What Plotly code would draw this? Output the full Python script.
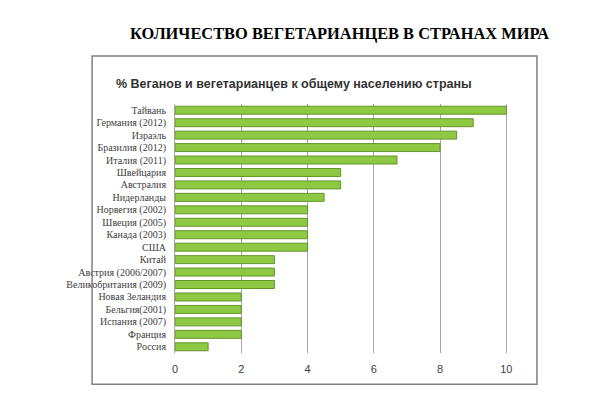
import plotly.graph_objects as go

# Data (top to bottom)
countries = ['Тайвань', 'Германия (2012)', 'Израэль', 'Бразилия (2012)', 'Италия (2011)',
             'Швейцария', 'Австралия', 'Нидерланды', 'Норвегия (2002)', 'Швеция (2005)',
             'Канада (2003)', 'США', 'Китай', 'Австрия (2006/2007)', 'Великобритания (2009)',
             'Новая Зеландия', 'Бельгия(2001)', 'Испания (2007)', 'Франция', 'Россия']
percent = [10, 9, 8.5, 8, 6.7, 5, 5, 4.5, 4, 4, 4, 4, 3, 3, 3, 2, 2, 2, 2, 1]
x_ticks = [0, 2, 4, 6, 8, 10]

fig = go.Figure()
fig.add_trace(go.Bar(x=percent, y=countries, orientation='h', width=0.64,
                     marker=dict(color='#8fc843', line=dict(color='#64952a', width=1))))

# page has an 8px body margin, so margins are shifted by that amount
fig.update_layout(
    width=600, height=407,
    paper_bgcolor='white', plot_bgcolor='white',
    margin=dict(l=167, r=100, t=96, b=62),
    showlegend=False,
    xaxis=dict(range=[0, 10.05], tickvals=x_ticks, showgrid=True, gridcolor='#a6a6a6',
               gridwidth=1, zeroline=False, showline=False, ticks='', automargin=False,
               ticklabelstandoff=8,
               tickfont=dict(family='Liberation Sans', size=11, color='#404040')),
    yaxis=dict(autorange='reversed', showline=True, linecolor='#a6a6a6', ticks='',
               automargin=False, ticklabelstandoff=6,
               tickfont=dict(family='Liberation Serif', size=10, color='#404040')),
)

# chart frame
fig.add_shape(type='rect', xref='paper', yref='paper',
              x0=-0.249, x1=1.087, y0=-0.125, y1=1.193,
              line=dict(color='#7f7f7f', width=1.5))

fig.add_annotation(text='<b>% Веганов и вегетарианцев к общему населению страны</b>',
                   xref='paper', yref='paper', x=0.358, y=1.115, showarrow=False,
                   xanchor='center',
                   font=dict(family='Liberation Sans', size=12.5, color='#333333'))
fig.add_annotation(text='<b>КОЛИЧЕСТВО ВЕГЕТАРИАНЦЕВ В СТРАНАХ МИРА</b>',
                   xref='paper', yref='paper', x=0.495, y=1.33, showarrow=False,
                   xanchor='center',
                   font=dict(family='Liberation Serif', size=16.4, color='black'))

fig.write_html("out.html")
